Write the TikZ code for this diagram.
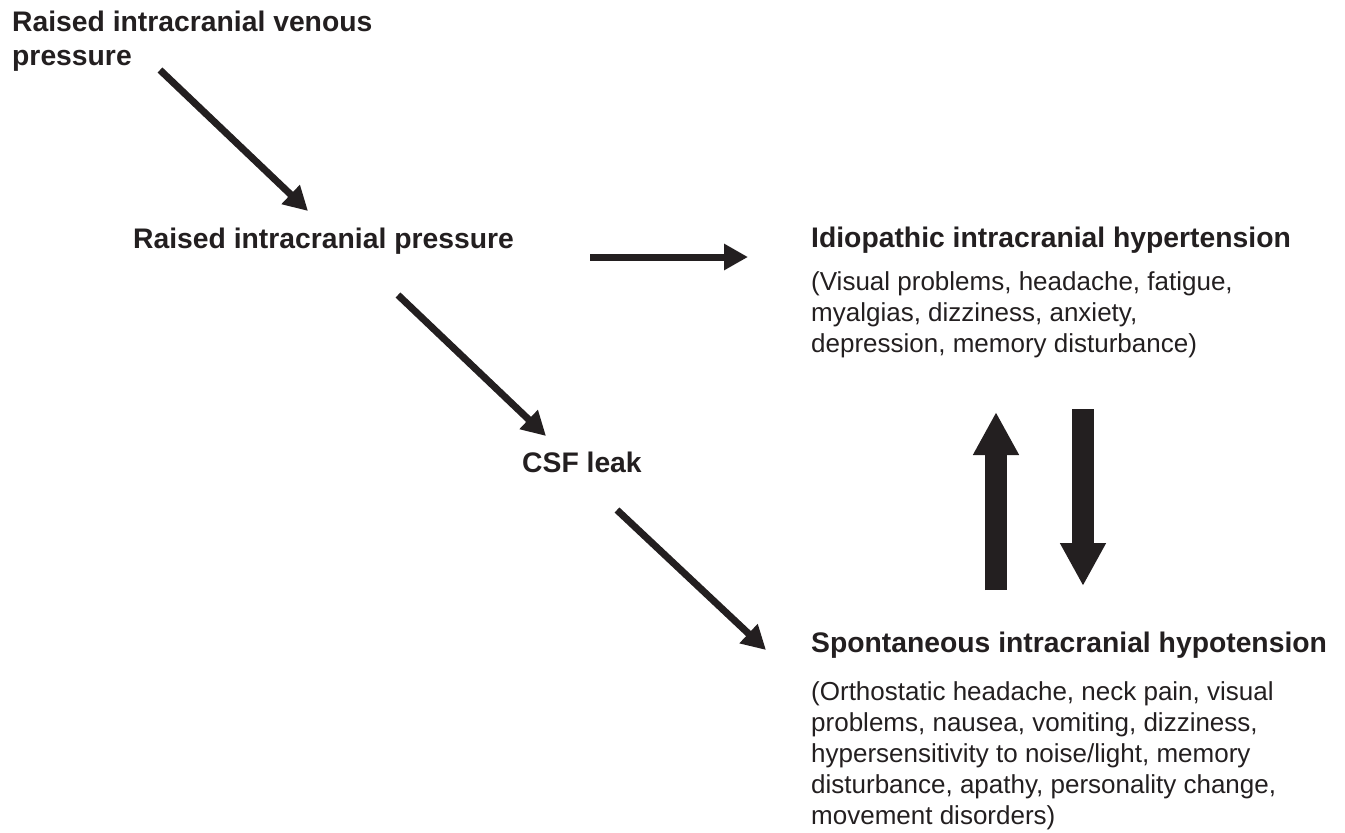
\documentclass[tikz,border=0pt]{standalone}
\usepackage{fontspec}
\setmainfont{Liberation Sans}
\usetikzlibrary{arrows.meta}
\definecolor{ink}{HTML}{231F20}
\begin{document}
\begin{tikzpicture}[x=1pt,y=-1pt,
  title/.style={inner sep=0pt,anchor=base west,text=ink,font=\fontsize{28.3}{34}\selectfont\bfseries,align=left},
  body/.style={inner sep=0pt,anchor=base west,text=ink,font=\fontsize{26}{31}\selectfont,align=left},
  thinarrow/.style={draw=ink,line width=7pt,-{Triangle[length=24pt,width=25pt]}},
  fatarrow/.style={draw=ink,line width=22pt,-{Triangle[length=43pt,width=43pt]}}]
\useasboundingbox (0,0) rectangle (1345,833);
% base anchor of a multi-line node = baseline of its last line
\node[title] (ven) at (12,65) {Raised intracranial venous\\pressure};
\node[title] (ricp) at (133,248) {Raised intracranial pressure};
\node[title] (csf) at (522,472) {CSF leak};
\node[title] (iih) at (811,247) {Idiopathic intracranial hypertension};
\node[body] (iihb) at (811,352) {(Visual problems, headache, fatigue,\\myalgias, dizziness, anxiety,\\depression, memory disturbance)};
\node[title] (sih) at (811,652) {Spontaneous intracranial hypotension};
\node[body] (sihb) at (811,824) {(Orthostatic headache, neck pain, visual\\problems, nausea, vomiting, dizziness,\\hypersensitivity to noise/light, memory\\disturbance, apathy, personality change,\\movement disorders)};
\coordinate (a1s) at (160,70);  \coordinate (a1e) at (308,211);
\coordinate (a2s) at (590,257); \coordinate (a2e) at (748,257);
\coordinate (a3s) at (398,295); \coordinate (a3e) at (546,436);
\coordinate (a4s) at (617,510); \coordinate (a4e) at (766,650);
\coordinate (ups) at (996,590); \coordinate (upe) at (996,412);
\coordinate (dns) at (1083,409); \coordinate (dne) at (1083,586);
\draw[thinarrow] (a1s) -- (a1e);
\draw[thinarrow] (a2s) -- (a2e);
\draw[thinarrow] (a3s) -- (a3e);
\draw[thinarrow] (a4s) -- (a4e);
\draw[fatarrow] (ups) -- (upe);
\draw[fatarrow] (dns) -- (dne);
\end{tikzpicture}
\end{document}
